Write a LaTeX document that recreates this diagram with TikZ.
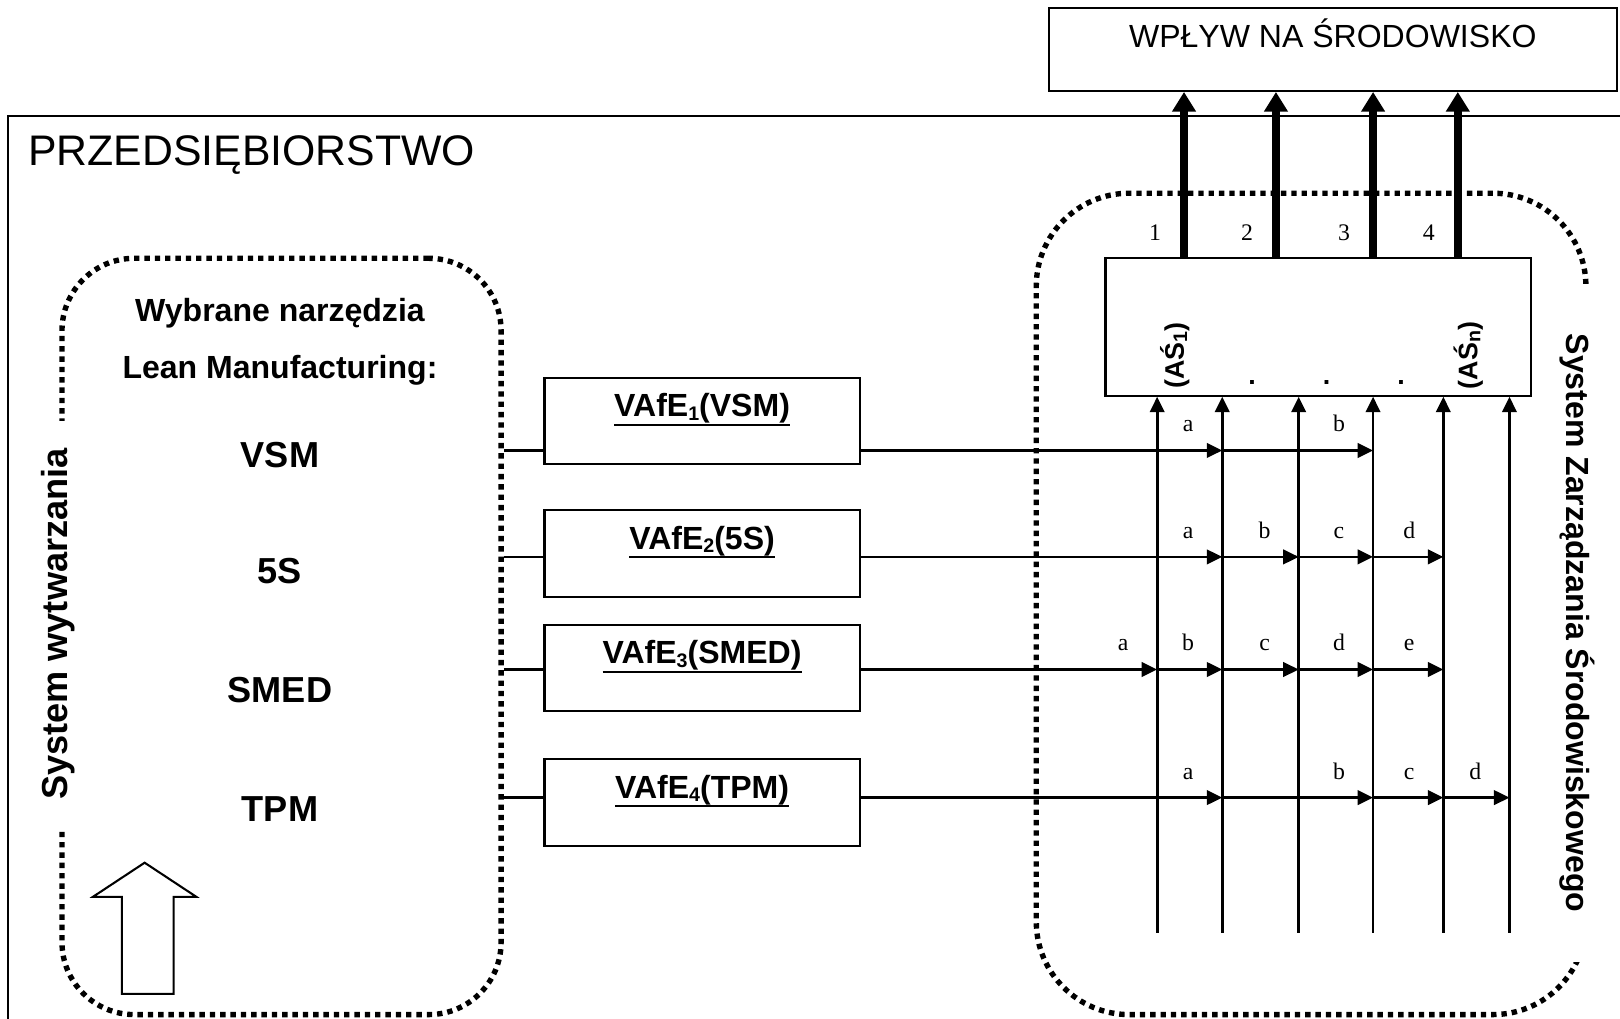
\documentclass[tikz,border=0pt]{standalone}
\usepackage{fontspec}
\setmainfont{Liberation Sans}
\newfontfamily\timesfont{Liberation Serif}
\newsavebox{\ulsave}
\newcommand{\ulined}[1]{\sbox{\ulsave}{#1}\rlap{\rule[-4.4pt]{\wd\ulsave}{1.1pt}}\usebox{\ulsave}}
\newcommand{\smallsub}[1]{\raisebox{-0.12em}{\fontsize{9.5}{11}\selectfont #1}}
\usetikzlibrary{arrows.meta,positioning}

\begin{document}
\begin{tikzpicture}[x=0.5pt,y=-0.5pt,
    box/.style={draw,line width=1pt,inner sep=0pt},
    zone/.style={draw,line width=2.6pt,dash pattern=on 2.6pt off 2.4pt,rounded corners=#1,inner sep=0pt},
    link/.style={line width=1.3pt},
    flow/.style={line width=1.3pt,-{Triangle[length=7.5pt,width=7pt]}},
    bigflow/.style={line width=3.8pt,-{Triangle[length=9.5pt,width=11pt]}},
    seglbl/.style={font=\timesfont\fontsize{11.5}{13}\selectfont,anchor=base,xshift=-16.5pt,yshift=9pt},
    tool/.style={font=\bfseries\fontsize{17.5}{20}\selectfont,anchor=base},
    head/.style={font=\bfseries\fontsize{15.5}{18}\selectfont,anchor=base},
    vafe/.style={box,minimum width=152.5pt,minimum height=42pt},
    vafetxt/.style={font=\bfseries\fontsize{15.5}{18}\selectfont,anchor=base,inner sep=0pt},
  ]
    \useasboundingbox (0,0) rectangle (1568,986);
    \clip (0,0) rectangle (1568,986);

    % Enterprise frame
    \draw[line width=1pt] (8,1100) -- (8,112) -- (1700,112);
    \node[anchor=base west,inner sep=0pt,font=\fontsize{20.7}{24}\selectfont] (firm) at (27,160) {PRZEDSIĘBIORSTWO};

    % Environmental impact
    \node[box,minimum width=275pt,minimum height=40pt] (impact) at (1290,48) {};
    \node[anchor=base,font=\fontsize{15.5}{18}\selectfont] (impacttxt) at (1290,46) {WPŁYW NA ŚRODOWISKO};

    % Production system
    \node[zone=35pt,minimum width=212.5pt,minimum height=366pt] (lean) at (272.5,616) {};
    \node[rotate=90,fill=white,inner xsep=13pt,inner ysep=1pt,font=\bfseries\fontsize{17.5}{20}\selectfont] (leantxt) at (56,604) {System wytwarzania};
    \node[head] (lm1) at (271,311) {Wybrane narzędzia};
    \node[head] (lm2) at (271,366) {Lean Manufacturing:};
    \node[tool] (vsm) at (271,452) {VSM};
    \node[tool] (fives) at (271,565) {5S};
    \node[tool] (smed) at (271,680) {SMED};
    \node[tool] (tpm) at (271,795) {TPM};
    \draw[line width=1pt] (118,962) -- (118,868) -- (90,868) -- (140,835) -- (190,868) -- (168,868) -- (168,962) -- cycle;

    % Environmental management system
    \node[zone=45pt,minimum width=266pt,minimum height=397.5pt] (ems) at (1269,584.5) {};
    \node[rotate=-90,fill=white,inner xsep=24pt,inner ysep=1pt,font=\bfseries\fontsize{15.5}{18}\selectfont] (emstxt) at (1527,603) {System Zarządzania Środowiskowego};

    % Environmental aspects
    \node[box,minimum width=206pt,minimum height=66.5pt] (asbox) at (1276,316.5) {};
    \node[rotate=90,font=\bfseries\fontsize{13}{15}\selectfont] (as1) at (1137,344) {(AŚ\smallsub{1})};
    \node[rotate=90,font=\bfseries\fontsize{13}{15}\selectfont] (asn) at (1421,344) {(AŚ\smallsub{n})};
    \foreach \x [count=\i] in {1212,1284,1356}
        \node[anchor=base,font=\bfseries\fontsize{13}{15}\selectfont] (dot\i) at (\x,372) {.};

    % Impact arrows
    \foreach \x [count=\i] in {1146,1235,1329,1411} {
        \draw[bigflow] (asbox.north -| \x,0) -- (impact.south -| \x,0);
        \node[anchor=base,font=\timesfont\fontsize{11.5}{13}\selectfont] (num\i) at (\x-28,233) {\i};
    }

    % VAfE boxes
    \node[vafe] (vafe1) at (679.5,407.5) {};
    \node[vafe] (vafe2) at (679.5,535.5) {};
    \node[vafe] (vafe3) at (679.5,646.5) {};
    \node[vafe] (vafe4) at (679.5,776.5) {};
    \node[vafetxt] (vafe1txt) at ([yshift=-19.5pt]vafe1.north) {\ulined{VAfE\smallsub{1}(VSM)}};
    \node[vafetxt] (vafe2txt) at ([yshift=-19.5pt]vafe2.north) {\ulined{VAfE\smallsub{2}(5S)}};
    \node[vafetxt] (vafe3txt) at ([yshift=-19.5pt]vafe3.north) {\ulined{VAfE\smallsub{3}(SMED)}};
    \node[vafetxt] (vafe4txt) at ([yshift=-19.5pt]vafe4.north) {\ulined{VAfE\smallsub{4}(TPM)}};

    % Rows and columns
    \coordinate (r1) at (0,436);
    \coordinate (r2) at (0,539);
    \coordinate (r3) at (0,648);
    \coordinate (r4) at (0,772);
    \foreach \x [count=\i] in {1120,1183,1257,1329,1397,1461}
        \coordinate (v\i) at (\x,903);
    \foreach \i in {1,...,6}
        \draw[flow] (v\i) -- (asbox.south -| v\i);

    \foreach \i in {1,...,4}
        \draw[link] (lean.east |- r\i) -- (vafe\i.west |- r\i);

    % Row 1
    \draw[flow] (vafe1.east |- r1) -- (v2 |- r1) node[seglbl] {a};
    \draw[flow] (v2 |- r1) -- (v4 |- r1) node[seglbl] {b};
    % Row 2
    \draw[flow] (vafe2.east |- r2) -- (v2 |- r2) node[seglbl] {a};
    \draw[flow] (v2 |- r2) -- (v3 |- r2) node[seglbl] {b};
    \draw[flow] (v3 |- r2) -- (v4 |- r2) node[seglbl] {c};
    \draw[flow] (v4 |- r2) -- (v5 |- r2) node[seglbl] {d};
    % Row 3
    \draw[flow] (vafe3.east |- r3) -- (v1 |- r3) node[seglbl] {a};
    \draw[flow] (v1 |- r3) -- (v2 |- r3) node[seglbl] {b};
    \draw[flow] (v2 |- r3) -- (v3 |- r3) node[seglbl] {c};
    \draw[flow] (v3 |- r3) -- (v4 |- r3) node[seglbl] {d};
    \draw[flow] (v4 |- r3) -- (v5 |- r3) node[seglbl] {e};
    % Row 4
    \draw[flow] (vafe4.east |- r4) -- (v2 |- r4) node[seglbl] {a};
    \draw[flow] (v2 |- r4) -- (v4 |- r4) node[seglbl] {b};
    \draw[flow] (v4 |- r4) -- (v5 |- r4) node[seglbl] {c};
    \draw[flow] (v5 |- r4) -- (v6 |- r4) node[seglbl] {d};
\end{tikzpicture}
\end{document}
